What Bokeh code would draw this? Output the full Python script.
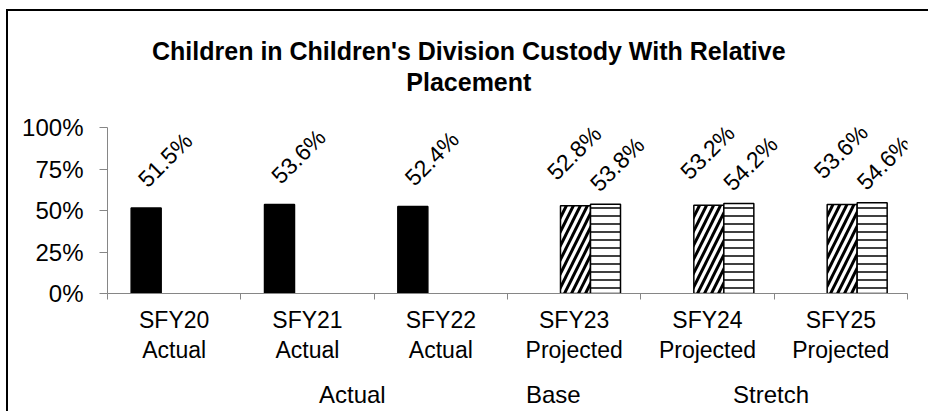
import numpy as np
from bokeh.plotting import figure
from bokeh.layouts import column
from bokeh.models import (ColumnDataSource, FactorRange, Range1d, LinearAxis, CategoricalAxis,
                          FixedTicker, NumeralTickFormatter, Legend, LegendItem, LabelSet)
from bokeh.core.properties import value
from bokeh.transform import dodge
from bokeh.embed import file_html
from bokeh.resources import INLINE

# ---- data ----
categories = ["SFY20", "SFY21", "SFY22", "SFY23", "SFY24", "SFY25"]
category_status = ["Actual", "Actual", "Actual", "Projected", "Projected", "Projected"]
actual_categories = categories[0:3]
actual_values = [0.515, 0.536, 0.524]
projected_categories = categories[3:6]
base_values = [0.528, 0.532, 0.536]
stretch_values = [0.538, 0.542, 0.546]
series_names = ["Actual", "Base", "Stretch"]
y_ticks = [0, 0.25, 0.5, 0.75, 1.0]
title_lines = ["Children in Children's Division Custody With Relative", "Placement"]

FONT = "Liberation Sans"

def pct(vals):
    return ["%.1f%%" % (v * 100) for v in vals]

src_a = ColumnDataSource(dict(cat=actual_categories, val=actual_values, lbl=pct(actual_values)))
src_b = ColumnDataSource(dict(cat=projected_categories, val=base_values, lbl=pct(base_values)))
src_s = ColumnDataSource(dict(cat=projected_categories, val=stretch_values, lbl=pct(stretch_values)))

p = figure(x_range=FactorRange(*categories, range_padding=0, factor_padding=0), y_range=Range1d(0, 1),
           width=920, height=354, output_backend="svg", toolbar_location=None,
           x_axis_location=None, min_border_left=99, min_border_right=21,
           min_border_top=116, min_border_bottom=69)
p.outline_line_color = None
p.xgrid.visible = False
p.ygrid.visible = False
p.background_fill_color = "white"
p.border_fill_color = "white"

n = len(categories)
TITLE_POS = 2.71  # horizontal centre of the title, in category slots

def text_axis(label, standoff, size, bold=False):
    return LinearAxis(ticker=FixedTicker(ticks=[TITLE_POS]),
                      major_label_overrides={TITLE_POS: label},
                      axis_line_color=None, major_tick_line_color=None,
                      major_tick_in=0, major_tick_out=0, minor_tick_line_color=None,
                      major_label_text_font=FONT, major_label_text_font_size=size,
                      major_label_text_font_style="bold" if bold else "normal",
                      major_label_text_color="black", major_label_standoff=standoff)

# title lines (closest to plot first)
p.add_layout(text_axis(title_lines[1], 32, "25px", True), "above")
p.add_layout(text_axis(title_lines[0], 0, "25px", True), "above")

# y axis
ya = p.yaxis[0]
ya.ticker = FixedTicker(ticks=y_ticks)
ya.formatter = NumeralTickFormatter(format="0%")
ya.major_label_text_font = FONT
ya.major_label_text_font_size = "24px"
ya.major_label_text_color = "black"
ya.axis_line_color = "#868686"
ya.major_tick_line_color = "#868686"
ya.major_tick_in = 0
ya.major_tick_out = 8
ya.minor_tick_line_color = None
ya.major_label_standoff = 16

# x axis: ticks at category boundaries (synthetic coordinates 0..n)
tick_axis = LinearAxis(ticker=FixedTicker(ticks=list(range(n + 1))),
                       major_label_overrides={i: "" for i in range(n + 1)},
                       axis_line_color="#868686", major_tick_line_color="#868686",
                       major_tick_in=0, major_tick_out=6, minor_tick_line_color=None,
                       major_label_text_font_size="1px", major_label_standoff=0)
p.add_layout(tick_axis, "below")
cat_axis = CategoricalAxis(axis_line_color=None, major_tick_line_color=None,
                           major_tick_in=0, major_tick_out=0,
                           major_label_text_font=FONT, major_label_text_font_size="23px",
                           major_label_text_color="black", major_label_standoff=7)
p.add_layout(cat_axis, "below")

# second label row: status words (made unique with zero-width suffixes)
seen = {}
status_factors = []
for s in category_status:
    k = seen.get(s, 0)
    seen[s] = k + 1
    status_factors.append(s + "\u200b" * k)
p.extra_x_ranges = {"status": FactorRange(*status_factors, range_padding=0, factor_padding=0)}
status_axis = CategoricalAxis(x_range_name="status", axis_line_color=None, major_tick_line_color=None,
                              major_tick_in=0, major_tick_out=0,
                              major_label_text_font=FONT, major_label_text_font_size="23px",
                              major_label_text_color="black", major_label_standoff=1)
p.add_layout(status_axis, "below")

W = 0.225
STYLE_A = dict(fill_color="black", line_color="black", line_width=1.5)
STYLE_B = dict(fill_color="white", line_color="black", line_width=1.5,
               hatch_pattern="/", hatch_color="black", hatch_weight=3, hatch_scale=14)
STYLE_S = dict(fill_color="white", line_color="black", line_width=1.5,
               hatch_pattern="-", hatch_color="black", hatch_weight=1.5, hatch_scale=8)

p.vbar(x=dodge("cat", -0.21, range=p.x_range), top="val", width=W, source=src_a, **STYLE_A)
p.vbar(x=dodge("cat", 0.01, range=p.x_range), top="val", width=W, source=src_b, **STYLE_B)
p.vbar(x=dodge("cat", 0.235, range=p.x_range), top="val", width=W, source=src_s, **STYLE_S)

for src, xo, yo in [(src_a, -9, 48), (src_b, 0, 53), (src_s, 43, 40)]:
    ls = LabelSet(x="cat", y="val", text="lbl", source=src, angle=np.pi / 4,
                  x_offset=xo, y_offset=yo, text_align="center", text_baseline="middle",
                  text_font=value(FONT), text_font_size=value("23px"), text_color="black")
    p.add_layout(ls)

# legend strip drawn as its own small figure under the chart
lf = figure(width=920, height=46, output_backend="svg", toolbar_location=None,
            x_range=Range1d(0, 1), y_range=Range1d(0, 1),
            x_axis_location=None, y_axis_location=None,
            min_border_left=0, min_border_right=0, min_border_top=0, min_border_bottom=0)
lf.outline_line_color = None
lf.grid.visible = False
lf.background_fill_color = "white"
lf.border_fill_color = "white"
empty = dict(x=[], top=[])
la = lf.vbar(x=[], top=[], width=0.1, **STYLE_A)
lb = lf.vbar(x=[], top=[], width=0.1, **STYLE_B)
lst = lf.vbar(x=[], top=[], width=0.1, **STYLE_S)
legend = Legend(items=[LegendItem(label=series_names[0], renderers=[la]),
                       LegendItem(label=series_names[1], renderers=[lb]),
                       LegendItem(label=series_names[2], renderers=[lst])],
                orientation="horizontal", location=(198, 2),
                glyph_width=12, glyph_height=12, label_standoff=2, spacing=19, label_width=174,
                label_text_font=FONT, label_text_font_size="24px", label_text_color="black",
                border_line_color=None, background_fill_alpha=0, padding=0, margin=0)
lf.add_layout(legend, "center")

layout = column(p, lf, spacing=0)
layout.styles = {"border-left": "2px solid black", "border-top": "2px solid black",
                 "margin-left": "6px", "margin-top": "9px"}

open("out.html", "w").write(file_html(layout, INLINE))
